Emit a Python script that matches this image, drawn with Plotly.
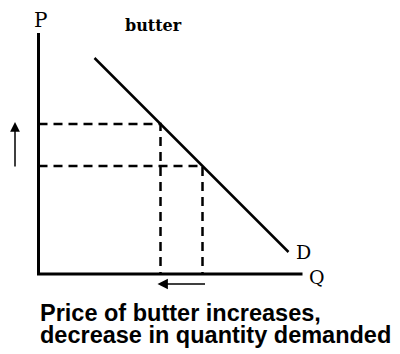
import plotly.graph_objects as go

# Axis extents (units of quantity / price)
q_axis_max = 13.2
p_axis_max = 12.05

# Demand curve endpoints
demand_q = [2.8, 12.5]
demand_p = [10.8, 1.1]

# Price rises from the original level to the higher level
prices = [7.5, 5.4]        # higher price, original price
quantities = [6.1, 8.2]    # quantity demanded at each price

# Arrows: price movement and quantity movement
price_arrow_q = -1.175
price_arrow_p = [5.3, 7.6]
qty_arrow_p = -0.5
qty_arrow_q = [8.4, 5.95]

caption_lines = ["Price of butter increases,", "decrease in quantity demanded"]

fig = go.Figure()

# Axes
fig.add_trace(go.Scatter(x=[0, 0, q_axis_max], y=[p_axis_max, 0, 0], mode="lines",
                         line=dict(color="black", width=3), hoverinfo="skip"))

# Demand curve
fig.add_trace(go.Scatter(x=demand_q, y=demand_p, mode="lines",
                         line=dict(color="black", width=2.5), hoverinfo="skip"))

# Dashed guides from each price/quantity pair to the axes
for p, q in zip(prices, quantities):
    fig.add_trace(go.Scatter(x=[0, q, q], y=[p, p, 0], mode="lines",
                             line=dict(color="black", width=2.5, dash="9px,6px"),
                             hoverinfo="skip"))

# Arrows
fig.add_annotation(x=price_arrow_q, y=price_arrow_p[1], ax=price_arrow_q, ay=price_arrow_p[0],
                   xref="x", yref="y", axref="x", ayref="y", text="", showarrow=True,
                   arrowhead=2, arrowsize=1.3, arrowwidth=1.5, arrowcolor="black")
fig.add_annotation(x=qty_arrow_q[1], y=qty_arrow_p, ax=qty_arrow_q[0], ay=qty_arrow_p,
                   xref="x", yref="y", axref="x", ayref="y", text="", showarrow=True,
                   arrowhead=2, arrowsize=1.3, arrowwidth=1.6, arrowcolor="black")

serif = "DejaVu Serif"
# Axis labels and curve label
fig.add_annotation(x=0.075, y=12.7, text="P", showarrow=False,
                   font=dict(family=serif, size=20, color="black"))
fig.add_annotation(x=q_axis_max + 0.7, y=-0.15, text="Q", showarrow=False,
                   font=dict(family=serif, size=19, color="black"))
fig.add_annotation(x=demand_q[1] + 0.75, y=demand_p[1] + 0.0, text="D", showarrow=False,
                   font=dict(family=serif, size=19, color="black"))
fig.add_annotation(x=5.75, y=12.45, text="<b>butter</b>", showarrow=False,
                   font=dict(family=serif, size=16, color="black"))

# Caption
for i, line in enumerate(caption_lines):
    fig.add_annotation(x=-0.05, y=-1.95 - 1.1 * i, text=f"<b>{line}</b>", showarrow=False,
                       xanchor="left", font=dict(family="Liberation Sans", size=23.5, color="black"))

fig.update_layout(
    width=400, height=354,
    margin=dict(l=0, r=0, t=0, b=0),
    paper_bgcolor="white", plot_bgcolor="white",
    showlegend=False,
    xaxis=dict(range=[-1.925, 18.075], visible=False, fixedrange=True),
    yaxis=dict(range=[-4.0, 13.7], visible=False, fixedrange=True),
)

fig.write_html("out.html")
